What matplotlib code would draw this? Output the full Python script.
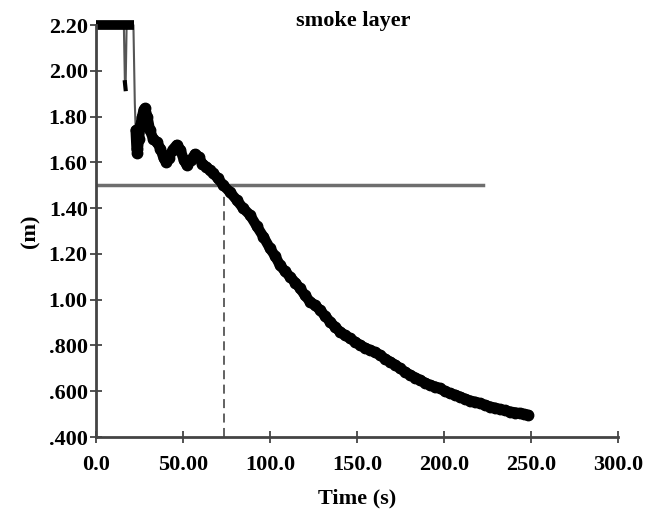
import matplotlib.pyplot as plt

# smoke layer height
time_flat = [0, 22]
height_flat = [2.2, 2.2]
time_s = [16.0, 16.6, 17.0, 17.6, 18.5, 19.5, 20.5, 21.5, 22.3, 22.8, 23.3, 23.8,
          24.6, 25.5, 26.5, 27.4, 28.2, 29.5, 31.0, 33.0, 34.9, 37.0, 38.8, 40.2,
          42.0, 44.0, 46.4, 48.5, 50.5, 52.1, 54.5, 56.9, 59.0, 61.0, 63.5, 65.5,
          67.4, 70.0, 73.2, 77.0, 80.9, 84.5, 88.5, 92.5, 96.2, 100.0, 103.0, 105.7,
          108.5, 111.5, 114.5, 117.2, 120.0, 123.0, 126.0, 128.7, 131.5, 134.5, 137.5,
          140.2, 143.0, 146.0, 149.0, 151.7, 154.5, 157.5, 160.5, 163.2, 166.0, 169.0,
          172.0, 174.7, 177.5, 180.5, 183.5, 186.2, 189.0, 192.0, 195.0, 197.7, 200.5,
          203.4, 206.5, 209.2, 212.0, 215.0, 218.0, 220.7, 223.5, 226.4, 229.5, 232.2,
          235.0, 237.9, 241.0, 243.7, 246.0, 248.5]
height = [2.2, 1.95, 1.92, 2.2, 2.2, 2.2, 2.2, 2.2, 1.86, 1.74, 1.66, 1.64,
          1.70, 1.76, 1.80, 1.83, 1.836, 1.80, 1.74, 1.70, 1.69, 1.66, 1.62, 1.603,
          1.62, 1.655, 1.676, 1.655, 1.61, 1.588, 1.61, 1.636, 1.625, 1.595, 1.58, 1.565,
          1.552, 1.53, 1.50, 1.47, 1.435, 1.40, 1.37, 1.32, 1.275, 1.224, 1.19, 1.151,
          1.125, 1.10, 1.075, 1.05, 1.02, 0.991, 0.975, 0.955, 0.93, 0.904, 0.88,
          0.86, 0.845, 0.831, 0.815, 0.802, 0.79, 0.78, 0.77, 0.758, 0.742, 0.729,
          0.715, 0.70, 0.685, 0.671, 0.66, 0.649, 0.637, 0.627, 0.62, 0.613, 0.60,
          0.591, 0.584, 0.576, 0.567, 0.559, 0.553, 0.547, 0.54, 0.533, 0.527, 0.521,
          0.516, 0.511, 0.507, 0.504, 0.50, 0.496]

limit_height = 1.5
limit_time_end = 222.4
cross_time = 73.3

xticks = [0, 50, 100, 150, 200, 250, 300]
xlabels = ['0.0', '50.00', '100.0', '150.0', '200.0', '250.0', '300.0']
yticks = [0.4, 0.6, 0.8, 1.0, 1.2, 1.4, 1.6, 1.8, 2.0, 2.2]
ylabels = ['.400', '.600', '.800', '1.00', '1.20', '1.40', '1.60', '1.80', '2.00', '2.20']

plt.rcParams['font.family'] = ['Liberation Serif', 'DejaVu Serif']
plt.rcParams['font.weight'] = 'bold'

fig = plt.figure(figsize=(6.5, 5.11), dpi=100)
ax = fig.add_axes([0.1477, 0.1448, 0.8031, 0.8062])

ax.plot([0, limit_time_end], [limit_height, limit_height], color='#6e6e6e', lw=2.5)
ax.plot([cross_time, cross_time], [0.4, limit_height], color='#555555', lw=1.3,
        ls=(0, (5, 3)))

# thin grey connecting line, thick black trace of the samples
ax.plot(time_s, height, color='#555555', lw=1.5, clip_on=False)
ax.plot(time_flat, height_flat, color='black', lw=7, clip_on=False, solid_capstyle='butt')
ax.plot(time_s[9:], height[9:], color='black', lw=7.5, clip_on=False,
        solid_joinstyle='round', solid_capstyle='round')
ax.plot(time_s[9:], height[9:], color='black', lw=0, marker='o', ms=7.5, clip_on=False)
ax.plot(time_s[1:3], height[1:3], color='black', lw=3)

ax.set_xlim(0, 300)
ax.set_ylim(0.4, 2.2)
ax.set_xticks(xticks)
ax.set_xticklabels(xlabels)
ax.set_yticks(yticks)
ax.set_yticklabels(ylabels)
ax.tick_params(direction='inout', length=8, width=1.3, color='#444444',
               labelsize=16)
ax.tick_params(axis='x', pad=9)
ax.tick_params(axis='y', pad=2)

for side in ['top', 'right']:
    ax.spines[side].set_visible(False)
for side in ['left', 'bottom']:
    ax.spines[side].set_color('#444444')
    ax.spines[side].set_linewidth(2)

ax.text(0.492, 1.01, 'smoke layer', transform=ax.transAxes, ha='center', va='center',
        fontsize=16, fontweight='bold')
ax.set_xlabel('Time (s)', fontsize=16, fontweight='bold', labelpad=10)
ax.set_ylabel('(m)', fontsize=16, fontweight='bold', labelpad=6)

fig.savefig('out.png', dpi=100)
